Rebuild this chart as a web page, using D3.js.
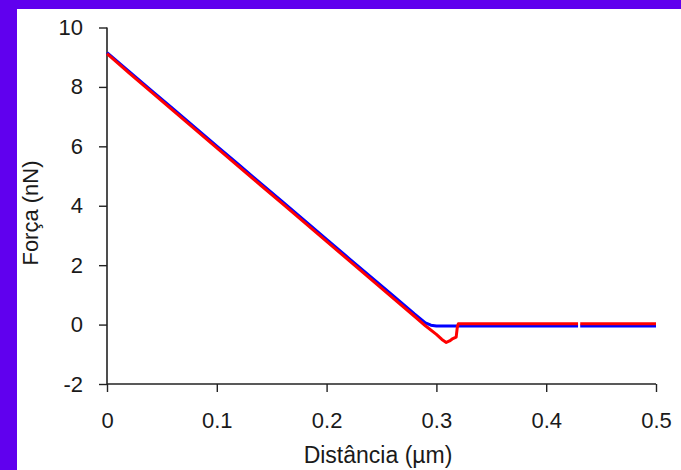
<!DOCTYPE html>
<html>
<head>
<meta charset="utf-8">
<script src="https://cdn.jsdelivr.net/npm/d3@7"></script>
<style>
  html, body { margin: 0; padding: 0; background: #6000ee; }
  svg { display: block; }
  text { font-family: "Liberation Sans", Arial, sans-serif; fill: #1a1a1a; }
</style>
</head>
<body>
<svg id="chart" width="681" height="470"></svg>
<script>
// Force–distance curves (approach in blue, retract in red)
const approachX = [0, 0.02, 0.04, 0.06, 0.08, 0.10, 0.12, 0.14, 0.16, 0.18, 0.20, 0.22, 0.24, 0.26, 0.28, 0.29, 0.295, 0.30, 0.35, 0.40, 0.429, 0.431, 0.45, 0.50];
const approachF = [9.15, 8.52, 7.89, 7.27, 6.64, 6.01, 5.38, 4.75, 4.13, 3.50, 2.87, 2.24, 1.61, 0.99, 0.36, 0.06, -0.02, -0.05, -0.05, -0.05, -0.05, -0.05, -0.05, -0.05];

const retractX = [0, 0.02, 0.04, 0.06, 0.08, 0.10, 0.12, 0.14, 0.16, 0.18, 0.20, 0.22, 0.24, 0.26, 0.28, 0.29, 0.30, 0.305, 0.309, 0.312, 0.315, 0.318, 0.319, 0.32, 0.35, 0.40, 0.429, 0.431, 0.45, 0.50];
const retractF = [9.12, 8.47, 7.84, 7.21, 6.58, 5.95, 5.32, 4.69, 4.06, 3.43, 2.80, 2.17, 1.54, 0.91, 0.28, -0.04, -0.33, -0.50, -0.60, -0.55, -0.47, -0.42, -0.10, 0.03, 0.03, 0.03, 0.03, 0.03, 0.03, 0.03];

// Short breaks in both traces (missing samples)
const gapStart = 0.429, gapEnd = 0.431;

const xTicks = [0, 0.1, 0.2, 0.3, 0.4, 0.5];
const yTicks = [-2, 0, 2, 4, 6, 8, 10];
const xTitle = "Distância (µm)";
const yTitle = "Força (nN)";

const svg = d3.select("#chart");

// white panel over the purple frame
svg.append("rect").attr("x", 17).attr("y", 9).attr("width", 664).attr("height", 461).attr("fill", "#ffffff");

const x = d3.scaleLinear().domain([0, 0.5]).range([107, 656]);
const y = d3.scaleLinear().domain([-2, 10]).range([384, 27.5]);

const xAxis = d3.axisBottom(x).tickValues(xTicks).tickSize(8).tickPadding(20)
  .tickFormat(d => d === 0 ? "0" : d3.format(".1f")(d));
const yAxis = d3.axisLeft(y).tickValues(yTicks).tickSize(8).tickPadding(16)
  .tickFormat(d => d < 0 ? "-" + Math.abs(d) : String(d));

const gx = svg.append("g").attr("transform", `translate(0,${y(-2)})`).call(xAxis);
const gy = svg.append("g").attr("transform", `translate(${x(0)},0)`).call(yAxis);

[gx, gy].forEach(g => {
  g.select(".domain").attr("stroke", "#222").attr("stroke-width", 1.6);
  g.selectAll(".tick line").attr("stroke", "#222").attr("stroke-width", 1.4);
  g.selectAll(".tick text").attr("font-size", 22).style("font-family", "'Liberation Sans', Arial, sans-serif").attr("fill", "#1a1a1a");
});
gx.select(".domain").attr("d", `M${x(0)},0H${x(0.5)}`);
gy.select(".domain").attr("d", `M0,${y(10)}V${y(-2)}`);

svg.append("text").attr("x", 378).attr("y", 463).attr("text-anchor", "middle")
  .attr("font-size", 23).text(xTitle);
svg.append("text").attr("transform", `translate(38,213) rotate(-90)`).attr("text-anchor", "middle")
  .attr("font-size", 22).text(yTitle);

function series(xs, fs) {
  return xs.map((v, i) => ({ x: v, f: fs[i] }));
}
const line = d3.line()
  .defined(d => !(d.x > gapStart && d.x < gapEnd))
  .x(d => x(d.x)).y(d => y(d.f));

function withGap(pts) {
  const out = [];
  pts.forEach(p => {
    out.push(p);
    if (p.x === gapStart) out.push({ x: (gapStart + gapEnd) / 2, f: p.f });
  });
  return out;
}

svg.append("path").datum(withGap(series(approachX, approachF)))
  .attr("fill", "none").attr("stroke", "#0000ff").attr("stroke-width", 3)
  .attr("stroke-linejoin", "round").attr("d", line);
svg.append("path").datum(withGap(series(retractX, retractF)))
  .attr("fill", "none").attr("stroke", "#ff0000").attr("stroke-width", 3)
  .attr("stroke-linejoin", "round").attr("d", line);
</script>
</body>
</html>
